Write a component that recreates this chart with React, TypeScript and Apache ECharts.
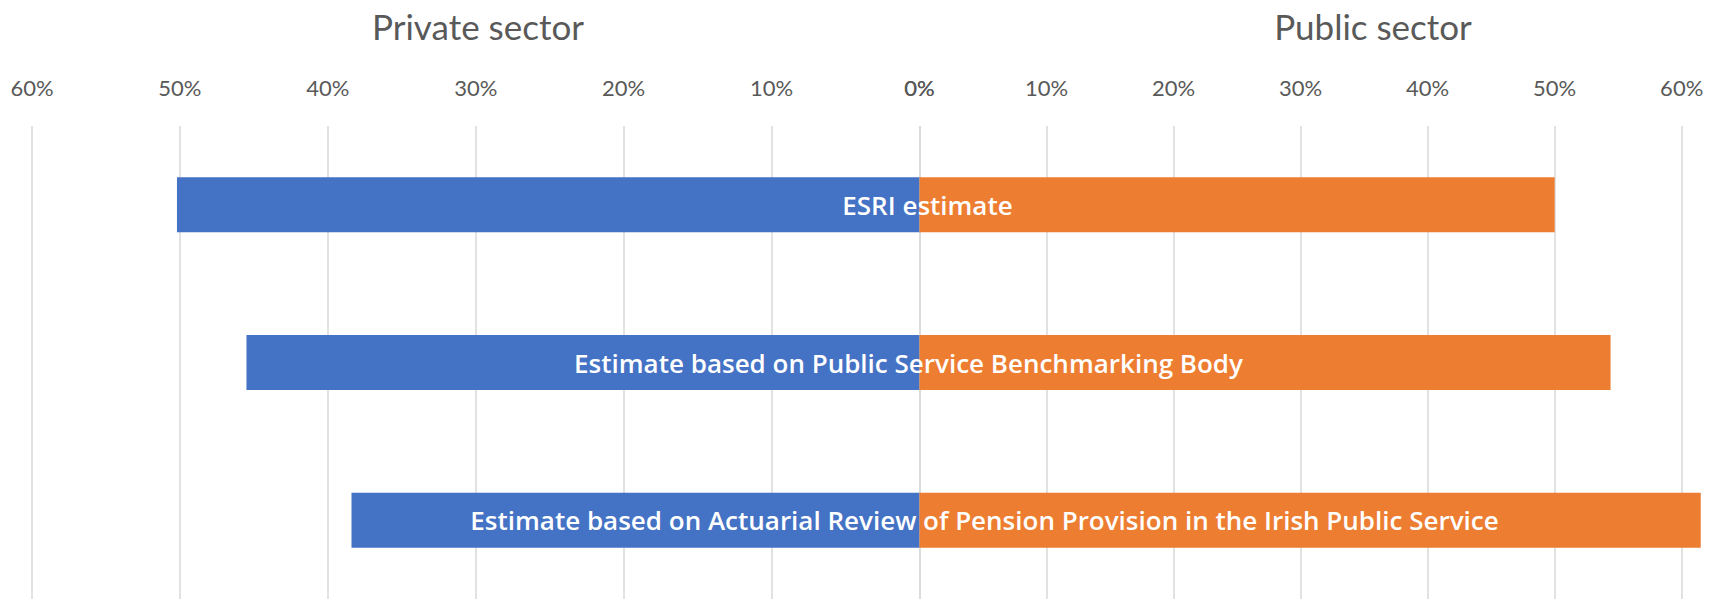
import React, { useEffect, useRef } from "react";
import * as echarts from "echarts";

const categories = [
  "ESRI estimate",
  "Estimate based on Public Service Benchmarking Body",
  "Estimate based on Actuarial Review of Pension Provision in the Irish Public Service",
];
const privateSector = [50.2, 45.5, 38.4];
const publicSector = [50.0, 54.4, 61.5];
const tickMax = 60;
const tickStep = 10;

// horizontal nudge of each category label from the zero line (style)
const LABEL_NUDGE = [8, -11, 65];

export default function App() {
  const ref = useRef<HTMLDivElement>(null);
  useEffect(() => {
    document.body.style.margin = "0";
    const chart = echarts.init(ref.current!, null, { renderer: "svg" });
    const axisLabel = {
      color: "#595959",
      fontSize: 22,
      fontFamily: "Lato",
      margin: 28,
      formatter: "{value}%",
    };
    const splitLine = { show: true, lineStyle: { color: "#d9d9d9", width: 1.5 } };
    const titleStyle = { color: "#595959", fontSize: 35, fontWeight: "normal", fontFamily: "Lato" };
    chart.setOption({
      animation: false,
      backgroundColor: "#ffffff",
      title: [
        { text: "Private sector", left: 473, top: 3, textAlign: "center", textStyle: titleStyle },
        { text: "Public sector", left: 1368, top: 3, textAlign: "center", textStyle: titleStyle },
      ],
      grid: [
        { left: 32, top: 126, width: 887.5, height: 475 },
        { left: 919.5, top: 126, width: 762.2, height: 475 },
      ],
      xAxis: [
        {
          gridIndex: 0,
          type: "value",
          position: "top",
          inverse: true,
          min: 0,
          max: tickMax,
          interval: tickStep,
          axisLine: { show: false },
          axisTick: { show: false },
          axisLabel,
          splitLine,
        },
        {
          gridIndex: 1,
          type: "value",
          position: "top",
          min: 0,
          max: tickMax,
          interval: tickStep,
          axisLine: { show: false },
          axisTick: { show: false },
          axisLabel,
          splitLine,
        },
      ],
      yAxis: [
        { gridIndex: 0, type: "category", data: categories, inverse: true, show: false },
        { gridIndex: 1, type: "category", data: categories, inverse: true, show: false },
      ],
      series: [
        {
          name: "Private sector",
          type: "bar",
          xAxisIndex: 0,
          yAxisIndex: 0,
          data: privateSector,
          barWidth: 55,
          clip: false,
          itemStyle: { color: "#4472C4" },
        },
        {
          name: "Public sector",
          type: "bar",
          xAxisIndex: 1,
          yAxisIndex: 1,
          barWidth: 55,
          clip: false,
          itemStyle: { color: "#ED7D31" },
          data: publicSector.map((v, i) => ({
            value: v,
            label: { offset: [LABEL_NUDGE[i], 0] },
          })),
          label: {
            show: true,
            position: [0, "50%"],
            align: "center",
            verticalAlign: "middle",
            color: "#ffffff",
            fontFamily: "Open Sans",
            fontWeight: 600,
            fontSize: 26,
            formatter: (p: any) => categories[p.dataIndex],
          },
        },
      ],
    });
    return () => chart.dispose();
  }, []);
  return <div ref={ref} style={{ width: 1719, height: 599 }} />;
}
